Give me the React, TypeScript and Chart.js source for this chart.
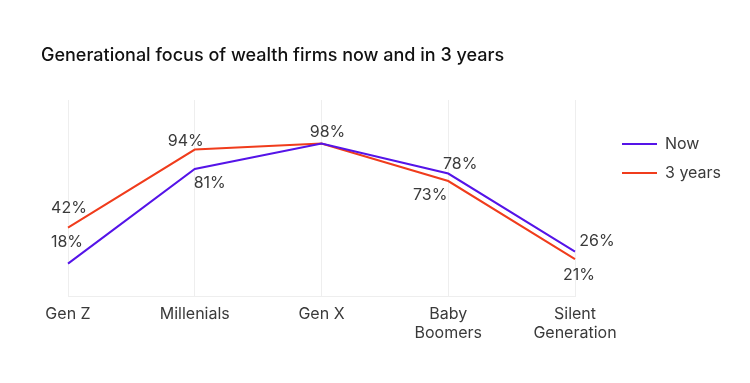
import React, { useEffect, useRef } from "react";
import { Chart, registerables } from "chart.js";

Chart.register(...registerables);

const TITLE = "Generational focus of wealth firms now and in 3 years";
const categories: (string | string[])[] = ["Gen Z", "Millenials", "Gen X", ["Baby", "Boomers"], ["Silent", "Generation"]];
const seriesNames = ["Now", "3 years"];
const nowValues = [18, 81, 98, 78, 26];
const threeYearValues = [42, 94, 98, 73, 21];
const seriesColors = ["#5514e8", "#f03c1c"];

// label offsets relative to points (null = hidden)
const nowLabelOffsets: ([number, number] | null)[] = [[-1, -21], [15, 14], [6, -11], [12, -9], [22, -10]];
const threeLabelOffsets: ([number, number] | null)[] = [[1, -19], [-9, -8], null, [-18, 14], [4, 16]];

const FONT = "Inter, 'Noto Sans', sans-serif";
const TEXT_COLOR = "#3a3a3a";

const labelPlugin = {
  id: "pointLabels",
  afterDatasetsDraw(chart: any) {
    const ctx = chart.ctx;
    const offsets = [nowLabelOffsets, threeLabelOffsets];
    ctx.save();
    ctx.font = `16px ${FONT}`;
    ctx.fillStyle = TEXT_COLOR;
    ctx.textAlign = "center";
    ctx.textBaseline = "middle";
    chart.data.datasets.forEach((ds: any, di: number) => {
      const meta = chart.getDatasetMeta(di);
      meta.data.forEach((pt: any, i: number) => {
        const off = offsets[di][i];
        if (!off) return;
        ctx.fillText(`${ds.data[i]}%`, pt.x + off[0], pt.y + off[1]);
      });
    });
    ctx.restore();
  },
};

const decorPlugin = {
  id: "decor",
  afterDraw(chart: any) {
    const ctx = chart.ctx;
    ctx.save();
    // title
    ctx.font = `500 18px ${FONT}`;
    ctx.fillStyle = "#111";
    ctx.textAlign = "left";
    ctx.textBaseline = "middle";
    ctx.fillText(TITLE, 41, 56);
    // legend
    const lx = 622;
    const ly = 144;
    const gap = 29;
    chart.data.datasets.forEach((ds: any, i: number) => {
      const y = ly + i * gap;
      ctx.strokeStyle = ds.borderColor;
      ctx.lineWidth = 2;
      ctx.beginPath();
      ctx.moveTo(lx, y);
      ctx.lineTo(lx + 35, y);
      ctx.stroke();
      ctx.font = `16px ${FONT}`;
      ctx.fillStyle = TEXT_COLOR;
      ctx.textBaseline = "middle";
      ctx.fillText(ds.label, lx + 43, y);
    });
    ctx.restore();
  },
};

export default function App() {
  const ref = useRef<HTMLCanvasElement | null>(null);
  useEffect(() => {
    document.body.style.margin = "0";
    if (!ref.current) return;
    const chart = new Chart(ref.current, {
      type: "line",
      data: {
        labels: categories as any,
        datasets: [
          { label: seriesNames[0], data: nowValues, borderColor: seriesColors[0], backgroundColor: seriesColors[0], borderWidth: 2, pointRadius: 0, tension: 0 },
          { label: seriesNames[1], data: threeYearValues, borderColor: seriesColors[1], backgroundColor: seriesColors[1], borderWidth: 2, pointRadius: 0, tension: 0 },
        ],
      },
      options: {
        responsive: false,
        animation: false,
        layout: { padding: { left: 68, right: 175, top: 100, bottom: 32 } },
        plugins: { legend: { display: false }, title: { display: false }, tooltip: { enabled: false } },
        scales: {
          x: {
            offset: false,
            grid: { color: "#eeeeee", drawTicks: false },
            border: { color: "#eeeeee" },
            ticks: { color: TEXT_COLOR, font: { family: FONT, size: 16, lineHeight: 1.2 }, padding: 8, maxRotation: 0, autoSkip: false },
          },
          y: { display: false, min: -4, max: 127 },
        },
      },
      plugins: [labelPlugin, decorPlugin],
    });
    return () => chart.destroy();
  }, []);
  return (
    <div style={{ width: 750, height: 383 }}>
      <canvas ref={ref} width={750} height={383} />
    </div>
  );
}
